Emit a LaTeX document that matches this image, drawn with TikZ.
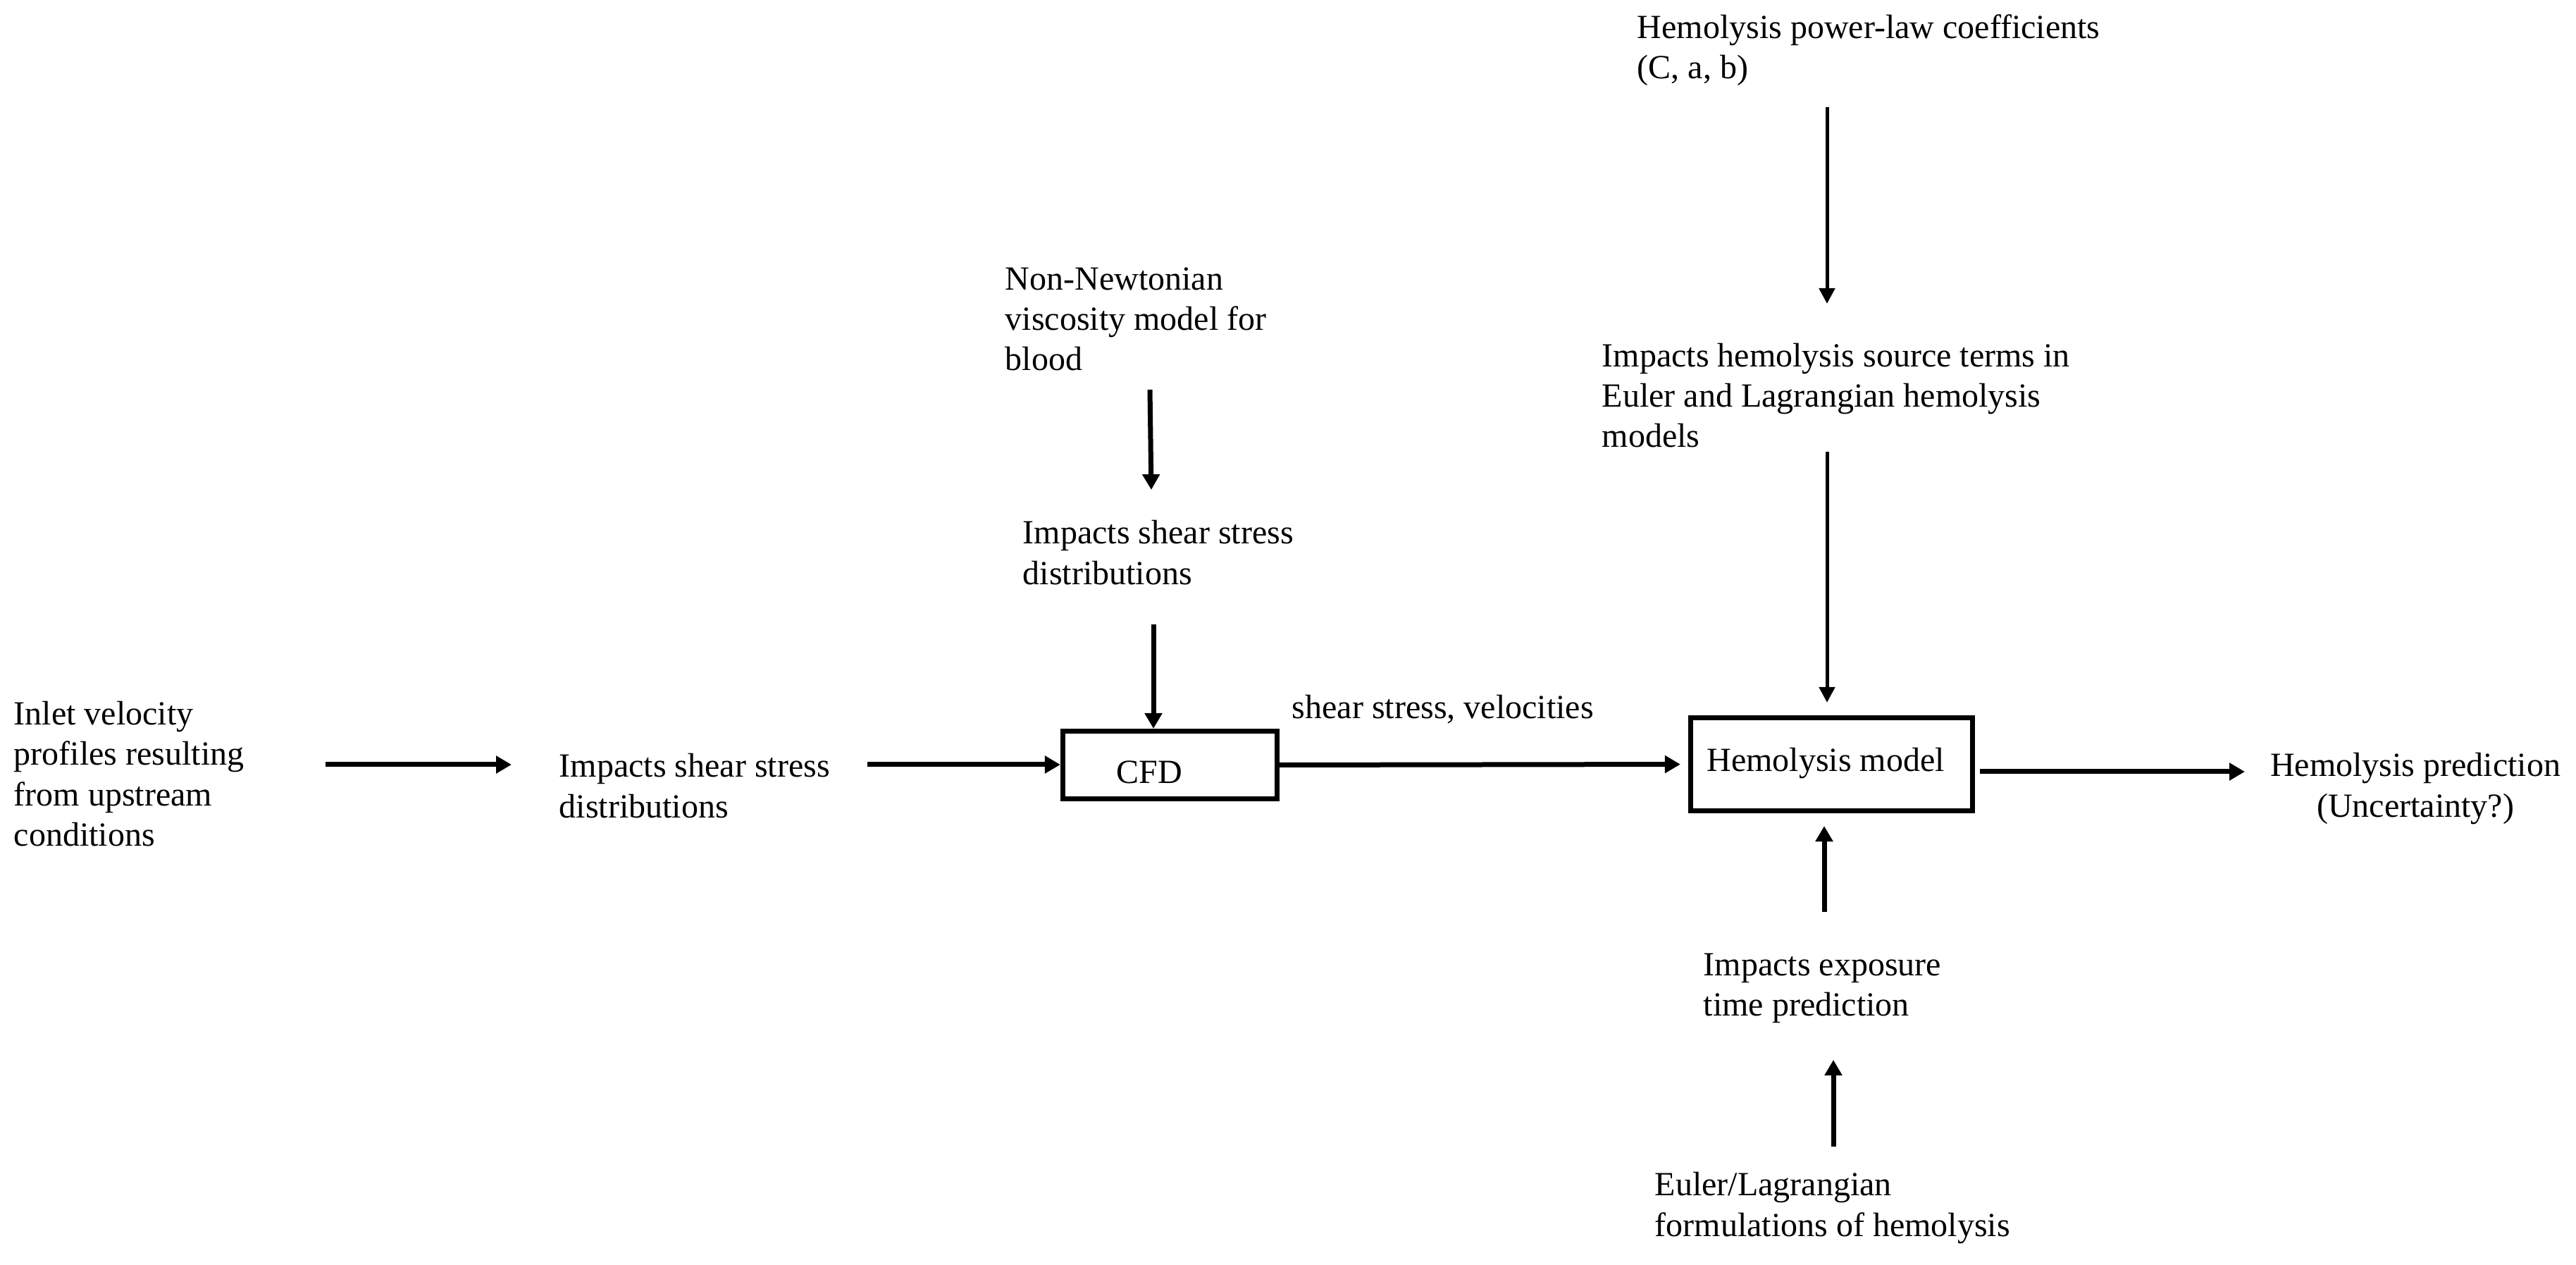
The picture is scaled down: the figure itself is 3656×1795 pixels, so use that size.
\documentclass[tikz,border=0pt]{standalone}
\usepackage{fontspec}
\setmainfont{Liberation Serif}
\usetikzlibrary{arrows.meta}
\begin{document}
\begin{tikzpicture}[x=0.25pt,y=-0.25pt,
  txt/.style={inner sep=0pt, align=left, font=\fontsize{12}{14.3}\selectfont},
  blk/.style={draw, line width=1.8pt, inner sep=0pt},
  arr/.style={line width=1.75pt, -{Triangle[length=5.5pt,width=6pt]}},
  thinarr/.style={line width=1.25pt, -{Triangle[length=5.5pt,width=5.5pt]}}]
\fill[white] (0,0) rectangle (3656,1795);
\useasboundingbox (0,0) rectangle (3656,1795);

% boxes
\node[blk, minimum width=76pt, minimum height=24pt] (cfd) at (1660.5,1085.5) {};
\node[txt] (cfdt) at (1631,1096) {CFD};
\node[blk, minimum width=100pt, minimum height=33pt] (hemo) at (2599.5,1084.5) {};
\node[txt] (hemot) at (2591,1083) {Hemolysis model};

% texts
\node[txt, anchor=west] (inlet) at (19,1098) {Inlet velocity\\profiles resulting\\from upstream\\conditions};
\node[txt, anchor=west] (lshear) at (793,1115) {Impacts shear stress\\distributions};
\node[txt, anchor=west] (nn) at (1426,453) {Non-Newtonian\\viscosity model for\\blood};
\node[txt, anchor=west] (mshear) at (1451,784) {Impacts shear stress\\distributions};
\node[txt, anchor=west] (coef) at (2323,71) {Hemolysis power-law coefficients\\(C, a, b)};
\node[txt, anchor=west] (src) at (2273,561) {Impacts hemolysis source terms in\\Euler and Lagrangian hemolysis\\models};
\node[txt, anchor=west] (expo) at (2417,1402) {Impacts exposure\\time prediction};
\node[txt, anchor=west] (euler) at (2348,1714) {Euler/Lagrangian\\formulations of hemolysis};
\node[txt, align=center] (pred) at (3428,1119) {Hemolysis prediction\\(Uncertainty?)};
\node[txt, anchor=west] (lbl) at (1833,1007) {shear stress, velocities};

% arrow end coordinates
\coordinate (c1s) at (2593,152);
\coordinate (c1e) at (2593,431);
\coordinate (c2s) at (2593,641);
\coordinate (n1s) at (1632,553);
\coordinate (n1e) at (1634,695);
\coordinate (n2s) at (1637,886);
\coordinate (i1s) at (462,1085);
\coordinate (i1e) at (726,1085);
\coordinate (i2s) at (1231,1085);
\coordinate (o1s) at (2810,1095);
\coordinate (o1e) at (3186,1095);
\coordinate (e1s) at (2589,1294);
\coordinate (e2s) at (2602,1627);
\coordinate (e2e) at (2602,1504);

% connectors
\draw[thinarr] (c1s) -- (c1e);
\draw[thinarr, shorten >=4.5pt] (c2s) -- (c2s |- hemo.north);
\draw[arr] (n1s) -- (n1e);
\draw[arr] (n2s) -- (n2s |- cfd.north);
\draw[arr] (i1s) -- (i1e);
\draw[arr] (i2s) -- (i2s -| cfd.west);
\draw[arr, shorten >=2.75pt] (cfd.east) -- (hemo.west);
\draw[arr] (o1s) -- (o1e);
\draw[arr, shorten >=4.5pt] (e1s) -- (e1s |- hemo.south);
\draw[arr] (e2s) -- (e2e);
\end{tikzpicture}
\end{document}
